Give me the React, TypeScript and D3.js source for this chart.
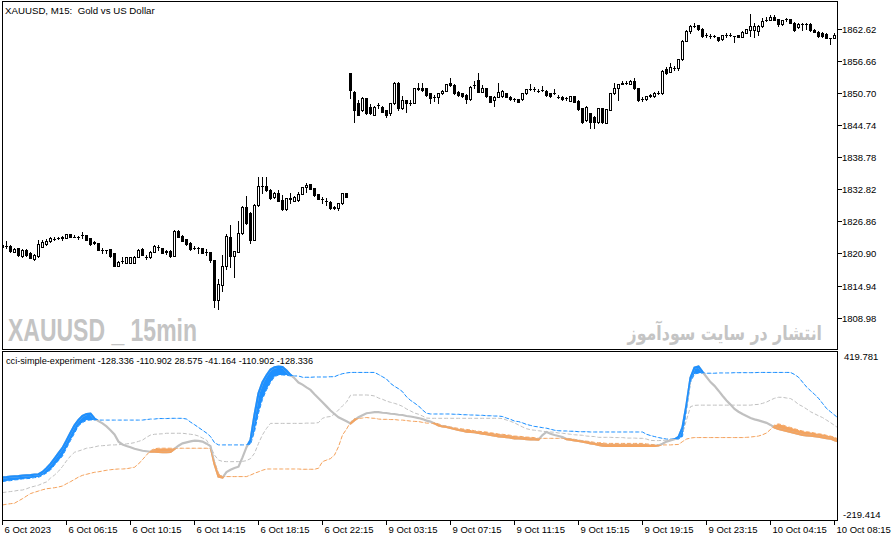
import * as d3 from 'd3';

// XAUUSD M15, 210 bars (6 Oct 2023 02:15 .. 10 Oct 2023 08:30)
const opens = [
  1822.16, 1822.29, 1822.29, 1821.23, 1821.87, 1820.43, 1821.55, 1820.94, 1819.82, 1820.43,
  1822.16, 1822.67, 1823.23, 1823.60, 1823.78, 1823.78, 1823.84, 1824.47, 1824.06, 1824.06,
  1824.25, 1824.34, 1823.73, 1822.95, 1822.80, 1821.55, 1821.46, 1821.68, 1820.94, 1818.63,
  1819.50, 1819.08, 1819.19, 1819.19, 1820.30, 1821.68, 1820.25, 1820.19, 1821.23, 1822.11,
  1821.87, 1821.27, 1821.42, 1820.49, 1825.09, 1824.15, 1823.60, 1822.91, 1822.01, 1821.92,
  1821.87, 1821.23, 1821.23, 1819.69, 1812.25, 1815.04, 1818.57, 1824.03, 1820.43, 1821.23,
  1824.66, 1829.61, 1828.38, 1823.41, 1829.92, 1833.46, 1833.46, 1832.71, 1831.36, 1832.21,
  1830.85, 1829.12, 1831.17, 1830.72, 1830.85, 1831.97, 1833.22, 1833.83, 1833.03, 1831.97,
  1830.98, 1830.72, 1830.54, 1829.50, 1829.31, 1830.24, 1832.10, 1854.43, 1851.01, 1848.85,
  1847.60, 1849.78, 1848.22, 1846.67, 1848.53, 1848.22, 1847.60, 1846.99, 1848.85, 1852.57,
  1847.92, 1849.46, 1848.96, 1848.96, 1851.64, 1851.64, 1851.64, 1850.71, 1849.96, 1849.96,
  1850.71, 1851.19, 1852.57, 1852.25, 1851.01, 1850.71, 1850.39, 1849.59, 1852.25, 1853.18,
  1851.01, 1851.64, 1850.21, 1849.46, 1850.08, 1850.21, 1850.71, 1850.08, 1849.65, 1849.59,
  1849.59, 1850.71, 1851.51, 1851.45, 1851.19, 1851.32, 1851.19, 1850.71, 1850.71, 1850.08,
  1850.08, 1849.83, 1849.33, 1850.21, 1849.33, 1847.92, 1845.74, 1846.99, 1846.35, 1845.42,
  1847.92, 1845.24, 1847.60, 1850.71, 1851.64, 1852.44, 1852.68, 1852.44, 1853.05, 1851.64,
  1849.59, 1849.59, 1850.34, 1850.21, 1850.82, 1850.71, 1855.18, 1854.73, 1855.42, 1855.42,
  1857.04, 1860.50, 1862.36, 1863.29, 1863.42, 1862.67, 1861.56, 1861.37, 1861.37, 1861.13,
  1860.76, 1861.56, 1861.56, 1861.37, 1861.56, 1861.24, 1861.99, 1862.49, 1862.49, 1862.36,
  1863.23, 1864.35, 1864.35, 1864.96, 1864.48, 1863.60, 1864.48, 1864.48, 1863.85, 1862.99,
  1863.60, 1863.60, 1863.60, 1862.49, 1862.17, 1861.99, 1861.74, 1860.94, 1860.94, 1862.17,
];
const highs = [
  1822.76, 1823.23, 1822.48, 1822.01, 1822.01, 1821.74, 1821.74, 1821.09, 1820.81, 1823.32,
  1823.50, 1823.69, 1824.06, 1824.06, 1824.06, 1824.15, 1824.62, 1824.62, 1824.25, 1824.15,
  1824.84, 1824.43, 1823.78, 1823.23, 1822.85, 1821.87, 1821.55, 1821.74, 1820.99, 1819.50,
  1820.25, 1820.25, 1820.25, 1820.43, 1821.74, 1821.83, 1820.62, 1821.36, 1822.39, 1822.48,
  1821.92, 1821.55, 1821.46, 1825.27, 1825.27, 1824.25, 1823.69, 1823.04, 1822.29, 1822.05,
  1821.92, 1821.74, 1821.27, 1819.78, 1816.10, 1820.62, 1824.53, 1826.20, 1821.36, 1826.95,
  1829.74, 1831.60, 1828.62, 1830.02, 1835.08, 1835.08, 1835.08, 1832.81, 1832.34, 1832.71,
  1831.78, 1831.23, 1832.21, 1831.60, 1832.40, 1833.27, 1833.96, 1833.92, 1833.09, 1832.06,
  1831.36, 1831.17, 1830.67, 1829.74, 1830.30, 1832.16, 1832.16, 1854.49, 1851.14, 1849.46,
  1850.02, 1849.83, 1848.72, 1848.35, 1848.90, 1848.35, 1847.69, 1848.90, 1852.81, 1852.81,
  1850.21, 1849.55, 1849.46, 1851.70, 1852.57, 1852.57, 1851.70, 1850.76, 1850.39, 1850.76,
  1851.32, 1852.44, 1853.50, 1852.35, 1851.14, 1850.76, 1850.49, 1852.07, 1853.00, 1854.43,
  1852.25, 1851.70, 1850.30, 1850.21, 1852.57, 1851.32, 1850.76, 1850.21, 1849.83, 1849.65,
  1850.76, 1851.51, 1852.44, 1851.88, 1851.51, 1852.07, 1851.32, 1850.76, 1851.45, 1850.39,
  1850.21, 1850.02, 1850.30, 1850.30, 1849.46, 1847.97, 1848.35, 1847.04, 1846.48, 1847.97,
  1847.97, 1847.79, 1850.76, 1852.57, 1852.53, 1853.00, 1853.05, 1853.18, 1853.50, 1851.70,
  1850.02, 1850.30, 1850.67, 1850.95, 1851.14, 1855.04, 1855.66, 1856.35, 1855.79, 1857.09,
  1860.63, 1862.49, 1863.42, 1863.73, 1863.51, 1862.77, 1861.93, 1861.74, 1861.56, 1861.19,
  1861.65, 1861.93, 1861.87, 1861.46, 1861.65, 1862.30, 1862.67, 1865.47, 1863.85, 1863.42,
  1864.72, 1864.85, 1865.19, 1865.28, 1864.53, 1864.44, 1864.72, 1864.53, 1863.98, 1863.70,
  1863.70, 1863.70, 1863.70, 1862.67, 1862.30, 1862.12, 1861.84, 1861.00, 1861.93, 1862.30,
];
const lows = [
  1822.01, 1821.92, 1821.18, 1821.09, 1820.43, 1820.25, 1820.43, 1819.97, 1819.60, 1820.25,
  1822.11, 1822.57, 1823.13, 1823.41, 1823.60, 1823.41, 1823.78, 1823.97, 1823.88, 1823.69,
  1823.73, 1823.32, 1822.48, 1822.67, 1821.46, 1821.05, 1820.94, 1820.34, 1818.57, 1818.57,
  1819.13, 1819.04, 1819.13, 1819.13, 1820.25, 1820.53, 1819.82, 1820.12, 1821.18, 1821.55,
  1820.90, 1820.81, 1820.34, 1820.43, 1823.97, 1823.23, 1822.57, 1821.64, 1821.68, 1820.94,
  1820.90, 1820.62, 1819.37, 1811.00, 1810.52, 1813.98, 1817.96, 1818.44, 1816.47, 1821.18,
  1824.53, 1826.39, 1822.80, 1823.32, 1829.83, 1832.10, 1832.53, 1831.04, 1831.23, 1830.67,
  1828.99, 1828.99, 1830.24, 1830.67, 1830.76, 1831.88, 1832.40, 1832.81, 1831.69, 1830.95,
  1830.24, 1829.92, 1829.27, 1829.27, 1828.99, 1830.20, 1831.41, 1849.78, 1845.42, 1846.58,
  1847.41, 1846.86, 1846.86, 1846.58, 1847.97, 1847.23, 1846.24, 1846.67, 1848.72, 1847.60,
  1847.79, 1847.28, 1848.53, 1848.90, 1851.32, 1851.14, 1850.30, 1848.96, 1849.28, 1848.96,
  1850.58, 1851.14, 1852.16, 1850.67, 1850.21, 1850.02, 1848.90, 1849.46, 1851.70, 1850.95,
  1850.95, 1850.11, 1849.09, 1848.35, 1850.02, 1850.02, 1849.93, 1849.46, 1849.37, 1849.09,
  1849.46, 1850.67, 1851.32, 1851.23, 1850.95, 1851.14, 1850.30, 1850.11, 1850.58, 1849.83,
  1849.55, 1849.46, 1849.28, 1849.09, 1847.60, 1845.18, 1845.55, 1844.20, 1844.20, 1845.27,
  1845.13, 1845.18, 1847.51, 1850.67, 1849.46, 1852.35, 1852.44, 1852.35, 1851.60, 1849.37,
  1849.28, 1849.55, 1850.02, 1850.11, 1850.67, 1850.67, 1854.30, 1854.67, 1855.04, 1855.04,
  1856.91, 1860.44, 1861.99, 1863.05, 1862.49, 1861.28, 1861.19, 1861.09, 1861.19, 1860.53,
  1860.63, 1861.28, 1861.37, 1860.31, 1861.19, 1861.19, 1861.93, 1861.37, 1861.24, 1861.56,
  1863.14, 1864.16, 1864.26, 1864.26, 1863.23, 1863.51, 1864.16, 1863.79, 1862.39, 1862.86,
  1862.49, 1862.67, 1862.39, 1862.12, 1861.28, 1861.28, 1860.91, 1859.88, 1860.91, 1860.63,
];
const closes = [
  1822.48, 1822.29, 1821.36, 1821.79, 1820.62, 1821.55, 1820.62, 1820.12, 1820.62, 1822.67,
  1823.10, 1823.28, 1823.73, 1823.69, 1823.84, 1823.88, 1824.47, 1824.03, 1823.97, 1824.03,
  1824.34, 1823.41, 1822.61, 1822.90, 1821.55, 1821.46, 1821.46, 1820.43, 1818.63, 1819.37,
  1819.45, 1820.19, 1820.19, 1820.30, 1821.55, 1820.62, 1820.20, 1821.23, 1822.29, 1822.05,
  1820.94, 1821.30, 1820.43, 1825.09, 1824.03, 1823.28, 1822.67, 1821.68, 1821.98, 1821.90,
  1820.94, 1821.20, 1819.69, 1812.25, 1815.17, 1818.63, 1824.15, 1820.43, 1821.36, 1824.77,
  1829.61, 1826.52, 1823.41, 1829.92, 1833.46, 1833.40, 1832.71, 1831.17, 1832.21, 1830.72,
  1829.18, 1831.17, 1831.12, 1831.47, 1831.97, 1833.22, 1833.70, 1832.84, 1831.78, 1830.98,
  1830.95, 1830.70, 1829.31, 1829.45, 1830.24, 1832.10, 1831.47, 1851.32, 1847.60, 1846.67,
  1849.78, 1846.99, 1846.99, 1848.22, 1848.50, 1847.28, 1846.67, 1848.85, 1852.57, 1847.92,
  1849.46, 1848.85, 1848.92, 1851.64, 1851.60, 1851.32, 1850.39, 1849.78, 1849.93, 1850.71,
  1851.19, 1852.38, 1852.25, 1850.71, 1850.39, 1850.21, 1849.59, 1851.94, 1852.20, 1851.01,
  1851.64, 1850.21, 1849.15, 1850.08, 1851.01, 1851.14, 1849.96, 1849.59, 1849.62, 1849.15,
  1850.71, 1851.45, 1851.48, 1851.42, 1851.16, 1851.29, 1850.39, 1850.21, 1850.68, 1850.05,
  1849.59, 1849.80, 1850.21, 1849.15, 1847.73, 1845.42, 1848.22, 1845.42, 1845.42, 1847.92,
  1845.42, 1847.73, 1850.71, 1851.64, 1852.44, 1852.68, 1852.65, 1853.05, 1851.64, 1849.46,
  1849.56, 1850.21, 1850.30, 1850.82, 1850.79, 1854.91, 1854.43, 1855.55, 1855.39, 1857.04,
  1860.50, 1862.36, 1863.29, 1863.26, 1862.62, 1861.37, 1861.53, 1861.34, 1861.35, 1860.63,
  1861.56, 1861.53, 1861.58, 1861.35, 1861.24, 1862.17, 1862.62, 1863.23, 1863.23, 1863.23,
  1864.22, 1864.32, 1864.96, 1864.35, 1863.60, 1864.35, 1864.45, 1863.85, 1862.49, 1863.60,
  1863.57, 1863.57, 1862.49, 1862.17, 1861.37, 1861.37, 1860.94, 1860.91, 1861.56, 1860.76,
];

// cci-simple-experiment buffers
const cci = [
  -63, -62, -60, -59, -58, -56, -55, -54, -52, -51,
  -42, -27, -10, 11, 32, 53, 82, 113, 142, 163,
  179, 187, 188, 169, 159, 150, 138, 123, 106, 78,
  67, 61, 56, 50, 46, 42, 40, 38, 38, 37,
  36, 36, 37, 49, 62, 71, 75, 79, 82, 81,
  78, 70, 60, -10, -60, -64, -42, -33, -26, -21,
  16, 56, 84, 183, 269, 312, 340, 362, 371, 374,
  372, 358, 341, 328, 311, 303, 292, 282, 265, 249,
  233, 217, 201, 187, 174, 166, 158, 150, 163, 174,
  182, 190, 192, 194, 194, 192, 191, 188, 187, 184,
  183, 179, 177, 174, 171, 167, 161, 157, 150, 142,
  138, 136, 132, 128, 124, 121, 117, 116, 115, 112,
  109, 107, 104, 102, 99, 98, 96, 94, 91, 91,
  90, 88, 87, 87, 86, 104, 116, 109, 104, 100,
  96, 88, 86, 83, 81, 78, 75, 71, 69, 65,
  62, 61, 61, 61, 61, 61, 61, 61, 61, 61,
  61, 61, 61, 61, 63, 70, 78, 83, 87, 96,
  134, 223, 330, 370, 374, 353, 333, 313, 298, 279,
  259, 240, 224, 207, 196, 187, 179, 171, 166, 162,
  157, 152, 144, 134, 128, 124, 120, 116, 112, 108,
  104, 103, 102, 100, 98, 95, 92, 90, 84, 78,
];
const upperBand = [
  -80, -77, -76, -73, -72, -69, -68, -67, -64, -63,
  -55, -46, -34, -15, 3, 21, 52, 82, 111, 140,
  153, 162, 163, 163, 163, 163, 163, 163, 163, 163,
  163, 163, 163, 163, 163, 163, 165, 167, 167, 169,
  169, 169, 170, 170, 170, 170, 167, 155, 145, 134,
  123, 112, 98, 74, 65, 65, 65, 65, 65, 65,
  65, 65, 67, 117, 190, 245, 282, 311, 334, 341,
  341, 340, 337, 337, 337, 332, 332, 332, 333, 333,
  333, 333, 334, 334, 341, 346, 349, 351, 351, 351,
  351, 351, 351, 351, 343, 334, 325, 308, 296, 287,
  275, 255, 241, 230, 219, 203, 190, 187, 187, 187,
  187, 187, 187, 186, 186, 184, 184, 183, 183, 182,
  182, 180, 180, 179, 179, 177, 171, 166, 159, 157,
  152, 146, 142, 138, 136, 133, 131, 127, 123, 121,
  120, 120, 119, 119, 117, 117, 117, 116, 116, 116,
  116, 116, 116, 116, 116, 116, 116, 116, 116, 116,
  116, 107, 102, 98, 94, 91, 88, 88, 88, 88,
  98, 203, 312, 345, 348, 348, 348, 348, 348, 349,
  349, 349, 349, 350, 350, 350, 350, 350, 350, 351,
  351, 351, 351, 351, 351, 351, 351, 351, 343, 332,
  313, 294, 279, 265, 249, 229, 209, 196, 183, 170,
];
const middleBand = [
  -123, -121, -119, -117, -114, -113, -108, -102, -98, -94,
  -87, -81, -66, -54, -39, -20, 2, 21, 36, 41,
  46, 52, 54, 57, 61, 62, 63, 65, 65, 66,
  67, 69, 71, 74, 79, 84, 95, 104, 107, 108,
  109, 111, 111, 111, 111, 111, 109, 107, 105, 100,
  92, 84, 58, 25, 5, 0, -1, -1, -1, -1,
  0, 3, 11, 32, 71, 105, 130, 150, 150, 150,
  150, 150, 150, 150, 150, 150, 151, 151, 151, 153,
  170, 175, 177, 187, 203, 219, 234, 261, 262, 262,
  262, 262, 261, 258, 250, 245, 238, 233, 229, 224,
  217, 207, 199, 191, 186, 179, 171, 170, 170, 170,
  170, 170, 170, 170, 170, 170, 170, 170, 170, 170,
  170, 170, 170, 170, 170, 169, 163, 158, 152, 144,
  136, 129, 125, 123, 121, 119, 117, 116, 115, 112,
  111, 109, 107, 105, 104, 103, 100, 99, 98, 95,
  95, 95, 95, 94, 94, 94, 92, 92, 92, 91,
  91, 88, 83, 82, 82, 83, 84, 86, 87, 95,
  111, 163, 216, 221, 222, 222, 222, 222, 222, 222,
  222, 222, 222, 222, 222, 222, 222, 222, 224, 225,
  229, 234, 242, 249, 253, 253, 250, 248, 238, 225,
  217, 207, 196, 188, 180, 173, 163, 153, 142, 131,
];
const lowerBand = [
  -172, -169, -167, -165, -156, -147, -137, -127, -122, -117,
  -112, -108, -106, -104, -101, -97, -88, -80, -71, -62,
  -55, -51, -47, -43, -41, -38, -35, -33, -31, -30,
  -30, -29, -26, -23, -10, 7, 25, 42, 50, 52,
  52, 52, 52, 52, 52, 52, 52, 52, 52, 52,
  52, 52, 50, -1, -47, -60, -60, -60, -60, -60,
  -60, -60, -54, -47, -41, -35, -30, -30, -30, -30,
  -30, -30, -30, -30, -30, -31, -31, -31, -31, -27,
  -1, 5, 11, 25, 58, 104, 127, 155, 169, 170,
  171, 173, 171, 170, 167, 166, 166, 165, 165, 163,
  163, 161, 159, 158, 157, 154, 151, 151, 153, 148,
  142, 140, 136, 133, 130, 128, 126, 124, 121, 119,
  117, 116, 113, 111, 108, 107, 105, 103, 100, 99,
  98, 96, 95, 94, 91, 91, 91, 91, 91, 91,
  91, 91, 90, 87, 84, 82, 80, 78, 75, 74,
  73, 71, 71, 71, 71, 71, 71, 71, 71, 71,
  71, 69, 67, 66, 65, 65, 65, 65, 66, 67,
  78, 88, 92, 94, 94, 94, 94, 94, 94, 94,
  94, 94, 94, 94, 94, 94, 95, 96, 98, 100,
  105, 112, 126, 144, 148, 144, 138, 134, 129, 124,
  120, 117, 115, 112, 109, 107, 103, 100, 95, 88,
];

const priceTicks = [1862.62, 1856.66, 1850.70, 1844.74, 1838.78, 1832.82, 1826.86, 1820.90, 1814.94, 1808.98];
const indTicks = [419.781, -219.414];
const timeTickBars = [0, 16, 32, 48, 64, 80, 96, 112, 128, 144, 160, 176, 192, 208];
const timeLabels = [
  '6 Oct 2023', '6 Oct 06:15', '6 Oct 10:15', '6 Oct 14:15', '6 Oct 18:15', '6 Oct 22:15',
  '9 Oct 03:15', '9 Oct 07:15', '9 Oct 11:15', '9 Oct 15:15', '9 Oct 19:15', '9 Oct 23:15',
  '10 Oct 04:15', '10 Oct 08:15',
];
const chartTitle = 'XAUUSD, M15:  Gold vs US Dollar';
const indLabel = 'cci-simple-experiment -128.336 -110.902 28.575 -41.164 -110.902 -128.336';

const FONT = '"Liberation Sans", Arial, sans-serif';
const BLUE = '#1e90ff';
const ORANGE = '#f4a460';
const SILVER = '#c0c0c0';

export default function App() {
  const width = 892;
  const height = 541;
  const left = 2.5;
  const right = 837.5;
  const mainTop = 1.5;
  const mainBottom = 349.5;
  const indTop = 351.5;
  const indBottom = 520.5;

  const x = d3.scaleLinear().domain([0, 209]).range([2.5, 838.5]);
  const y = d3.scaleLinear().domain([1808.98, 1862.62]).range([317.55, 29.3]);
  const yi = d3.scaleLinear().domain([-219.414, 419.781]).range([517, 355]);

  const idx = d3.range(closes.length);

  const linePath = (vals: number[]) =>
    d3.line<number>().x((i) => x(i)).y((i) => yi(vals[i]))(idx) as string;

  const aboveUpper = d3.area<number>()
    .x((i) => x(i)).y0(indTop - 5).y1((i) => yi(upperBand[i]))(idx) as string;
  const belowLower = d3.area<number>()
    .x((i) => x(i)).y0((i) => yi(lowerBand[i])).y1(indBottom + 5)(idx) as string;
  const fillPath = (band: number[]) =>
    d3.area<number>().x((i) => x(i)).y0((i) => yi(band[i])).y1((i) => yi(cci[i]))(idx) as string;

  return (
    <svg
      width={width}
      height={height}
      viewBox={`0 0 ${width} ${height}`}
      style={{ position: 'fixed', left: 0, top: 0, background: '#fff' }}
    >
      <defs>
        <clipPath id="mainClip">
          <rect x={left} y={mainTop} width={right - left} height={mainBottom - mainTop} />
        </clipPath>
        <clipPath id="indClip">
          <rect x={left} y={indTop} width={right - left} height={indBottom - indTop} />
        </clipPath>
        <clipPath id="aboveUpper">
          <path d={aboveUpper} />
        </clipPath>
        <clipPath id="belowLower">
          <path d={belowLower} />
        </clipPath>
      </defs>

      <rect x={0} y={0} width={width} height={height} fill="#fff" />

      {/* watermarks */}
      <text
        x={8}
        y={341}
        fontFamily={FONT}
        fontWeight="bold"
        fontSize={31}
        fill="#c4c4c4"
        textLength={189}
        lengthAdjust="spacingAndGlyphs"
      >
        XAUUSD _ 15min
      </text>
      <g transform="translate(822,340) scale(0.79,1)">
        <text
          x={0}
          y={0}
          textAnchor="end"
          fontFamily='"DejaVu Sans", sans-serif'
          fontWeight="bold"
          fontSize={20}
          fill="#c4c4c4"
        >
          انتشار در سایت سودآموز
        </text>
      </g>

      {/* candles */}
      <g clipPath="url(#mainClip)" shapeRendering="crispEdges">
        {idx.map((i) => {
          const cx = x(i);
          const yo = y(opens[i]);
          const yc = y(closes[i]);
          const top = Math.round(Math.min(yo, yc)) + 0.5;
          const bot = Math.round(Math.max(yo, yc)) + 0.5;
          const bull = closes[i] >= opens[i];
          return (
            <g key={i}>
              <line
                x1={cx}
                x2={cx}
                y1={Math.round(y(highs[i]))}
                y2={Math.round(y(lows[i])) + 1}
                stroke="#000"
              />
              {bot - top < 1 ? (
                <line x1={cx - 1.5} x2={cx + 1.5} y1={top} y2={top} stroke="#000" />
              ) : (
                <rect
                  x={cx - 1}
                  y={top}
                  width={2}
                  height={bot - top}
                  fill={bull ? '#fff' : '#000'}
                  stroke="#000"
                />
              )}
            </g>
          );
        })}
      </g>

      {/* indicator */}
      <g clipPath="url(#indClip)">
        <path d={linePath(upperBand)} fill="none" stroke={BLUE} strokeWidth={1} strokeDasharray="4,2" />
        <path d={linePath(middleBand)} fill="none" stroke={SILVER} strokeWidth={1} strokeDasharray="4,2" />
        <path d={linePath(lowerBand)} fill="none" stroke={ORANGE} strokeWidth={1} strokeDasharray="4,2" />
        <path d={fillPath(upperBand)} fill={BLUE} clipPath="url(#aboveUpper)" />
        <path d={fillPath(lowerBand)} fill={ORANGE} clipPath="url(#belowLower)" />
        <path d={linePath(cci)} fill="none" stroke={SILVER} strokeWidth={2.2} />
        <g clipPath="url(#aboveUpper)">
          <path d={linePath(cci)} fill="none" stroke={BLUE} strokeWidth={2.2} />
        </g>
        <g clipPath="url(#belowLower)">
          <path d={linePath(cci)} fill="none" stroke={ORANGE} strokeWidth={2.2} />
        </g>
      </g>

      {/* frames */}
      <g fill="none" stroke="#000" strokeWidth={1} shapeRendering="crispEdges">
        <rect x={left} y={mainTop} width={right - left} height={mainBottom - mainTop} />
        <rect x={left} y={indTop} width={right - left} height={indBottom - indTop} />
      </g>

      {/* texts */}
      <text x={5} y={14} fontFamily={FONT} fontSize={9.7} fill="#000" style={{ whiteSpace: 'pre' }}>
        {chartTitle}
      </text>
      <text
        x={6}
        y={364}
        fontFamily={FONT}
        fontSize={9.5}
        fill="#000"
        textLength={307}
        lengthAdjust="spacingAndGlyphs"
      >
        {indLabel}
      </text>

      {/* price axis */}
      <g fontFamily={FONT} fontSize={9.5} fill="#000">
        {priceTicks.map((p) => {
          const py = Math.round(y(p)) + 0.5;
          return (
            <g key={p}>
              <line x1={right} x2={right + 4} y1={py} y2={py} stroke="#000" shapeRendering="crispEdges" />
              <text x={842} y={py} dominantBaseline="central">
                {p.toFixed(2)}
              </text>
            </g>
          );
        })}
        <text x={844} y={356} dominantBaseline="central">
          {indTicks[0].toFixed(3)}
        </text>
        <text x={843} y={514.5} dominantBaseline="central">
          {indTicks[1].toFixed(3)}
        </text>
      </g>

      {/* time axis */}
      <g fontFamily={FONT} fontSize={9.5} fill="#000">
        {timeTickBars.map((b, k) => {
          const tx = x(b);
          return (
            <g key={b}>
              <line x1={tx} x2={tx} y1={indBottom} y2={indBottom + 4} stroke="#000" shapeRendering="crispEdges" />
              <text x={tx + 2} y={533}>
                {timeLabels[k]}
              </text>
            </g>
          );
        })}
      </g>
    </svg>
  );
}
